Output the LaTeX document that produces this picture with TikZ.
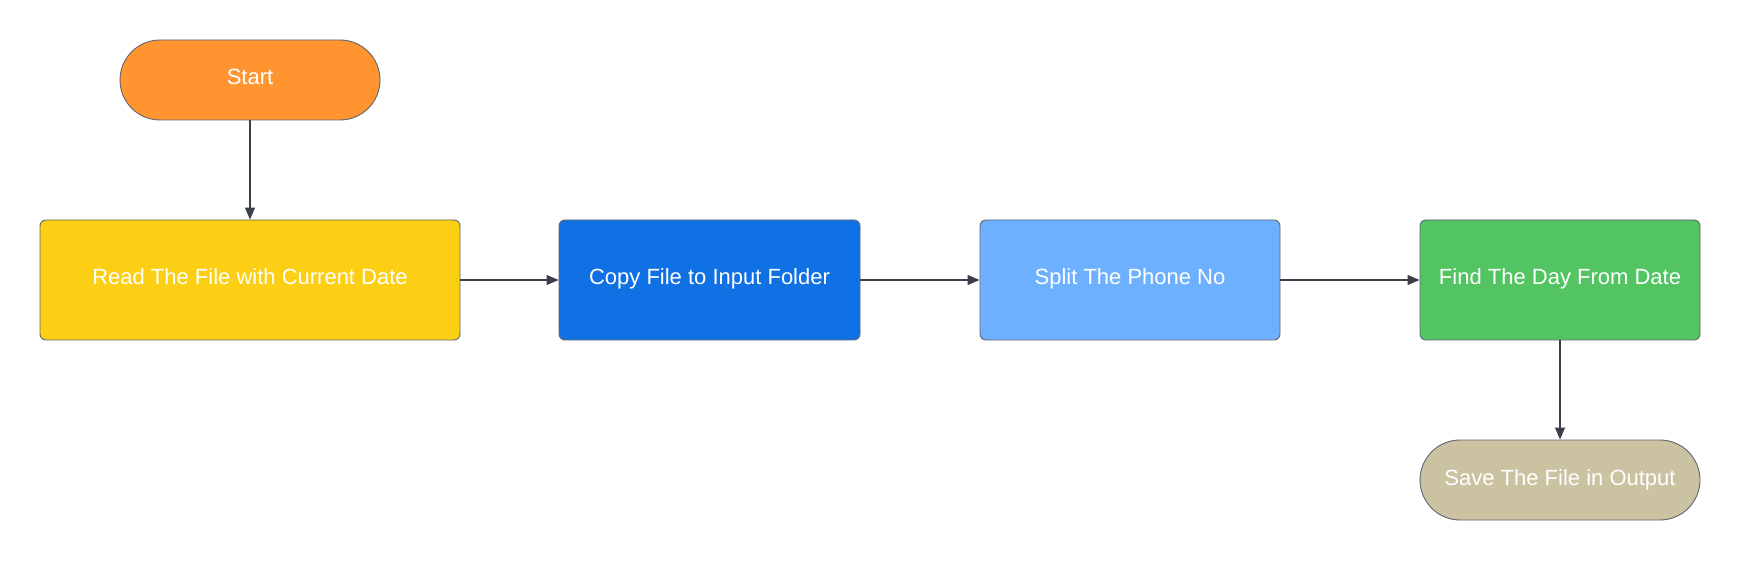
\documentclass[tikz,border=0pt]{standalone}
\usepackage{fontspec}
\setmainfont{Liberation Sans}
\usetikzlibrary{arrows.meta}
\tikzset{>={Triangle[length=12pt,width=10pt]}}
\definecolor{EdgeGray}{HTML}{3A3F4A}
\definecolor{StartOrange}{HTML}{FF9431}
\definecolor{ReadYellow}{HTML}{FCCF14}
\definecolor{CopyBlue}{HTML}{1071E5}
\definecolor{SplitBlue}{HTML}{6DB0FF}
\definecolor{FindGreen}{HTML}{53C462}
\definecolor{SaveTan}{HTML}{CBC2A1}

\begin{document}
\begin{tikzpicture}[x=1pt,y=1pt]
  \tikzset{
    procbox/.style={rectangle, rounded corners=6pt,
      minimum height=120pt, inner sep=0pt,
      text height=10pt, text depth=0pt,
      align=center, font=\fontsize{22}{26}\selectfont,
      text=white, draw=EdgeGray!80, line width=0.9pt},
    termbox/.style={procbox, rounded corners=40pt,
      minimum height=80pt, minimum width=280pt}
  }
  \useasboundingbox (0,0) rectangle (1740,560);

  \node[termbox, fill=StartOrange, minimum width=260pt] (start) at (250,480) {Start};
  \node[procbox, fill=ReadYellow, minimum width=420pt] (read) at (250,280) {Read The File with Current Date};
  \node[procbox, fill=CopyBlue, minimum width=301pt] (copy) at (709.5,280) {Copy File to Input Folder};
  \node[procbox, fill=SplitBlue, minimum width=300pt] (split) at (1130,280) {Split The Phone No};
  \node[procbox, fill=FindGreen, minimum width=280pt] (find) at (1560,280) {Find The Day From Date};
  \node[termbox, fill=SaveTan] (save) at (1560,80) {Save The File in Output};

  \draw[->,line width=1.2pt,EdgeGray] (start.south)--(read.north);
  \foreach \a/\b in {read/copy,copy/split,split/find}{
    \draw[->,line width=1.2pt,EdgeGray] (\a.east)--(\b.west);
  }
  \draw[->,line width=1.2pt,EdgeGray] (find.south)--(save.north);
\end{tikzpicture}
\end{document}
